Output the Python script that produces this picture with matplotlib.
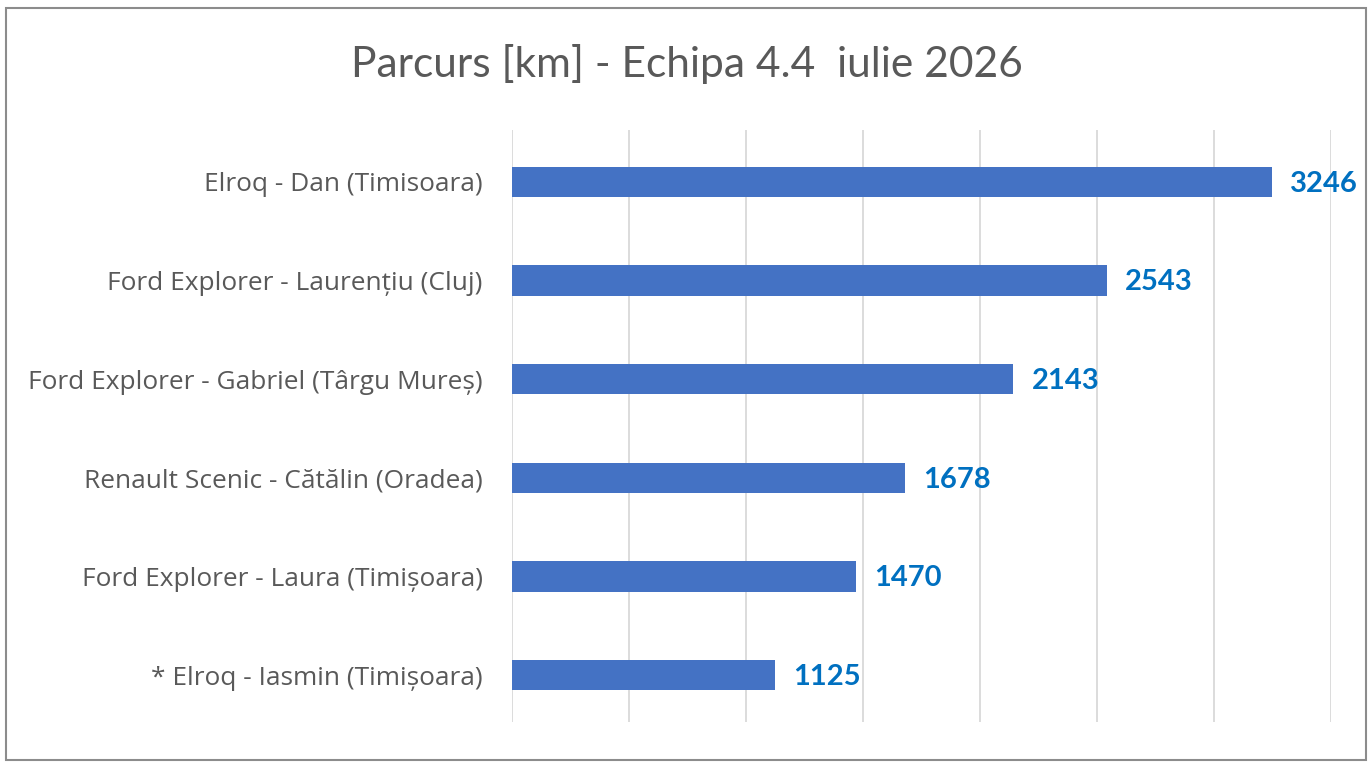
import matplotlib
matplotlib.use("Agg")
import matplotlib.pyplot as plt
from matplotlib.patches import Rectangle

plt.rcParams['font.family'] = ['Lato', 'DejaVu Sans']

# date din grafic (de jos in sus)
categorii = [
    "* Elroq - Iasmin (Timișoara)",
    "Ford Explorer - Laura (Timișoara)",
    "Renault Scenic - Cătălin (Oradea)",
    "Ford Explorer - Gabriel (Târgu Mureș)",
    "Ford Explorer - Laurențiu (Cluj)",
    "Elroq - Dan (Timisoara)",
]
km = [1125, 1470, 1678, 2143, 2543, 3246]
titlu = "Parcurs [km] - Echipa 4.4  iulie 2026"

fig = plt.figure(figsize=(13.72, 7.70), dpi=100)
ax = fig.add_axes([0.3732, 0.0623, 0.5969, 0.7689])

y = range(len(categorii))
ax.barh(y, km, height=0.305, color="#4472C4", zorder=3)

for i, v in enumerate(km):
    ax.text(v + 78, i - 0.02, str(v), va="center", ha="left", fontsize=21,
            fontweight="bold", color="#0070C0")

ax.set_xlim(0, 3500)
ax.set_ylim(-0.475, len(categorii) - 0.475)
ax.set_xticks(range(0, 3501, 500))
ax.set_xticklabels([])
ax.set_yticks(list(y))
ax.set_yticklabels(categorii, fontsize=18.9, color="#595959",
                   family=['Open Sans', 'DejaVu Sans'])
ax.tick_params(axis="both", length=0)
ax.tick_params(axis="y", pad=21)
ax.grid(axis="x", color="#D9D9D9", linewidth=1.3, zorder=0)
for s in ax.spines.values():
    s.set_visible(False)

fig.text(0.501, 0.917, titlu, ha="center", va="center", fontsize=30.6, color="#595959")

# chenarul graficului
fig.patches.append(Rectangle((0.0045, 0.013), 0.991, 0.976, transform=fig.transFigure,
                             fill=False, edgecolor="#8C8C8C", linewidth=1.5))

fig.savefig("out.png", dpi=100)
